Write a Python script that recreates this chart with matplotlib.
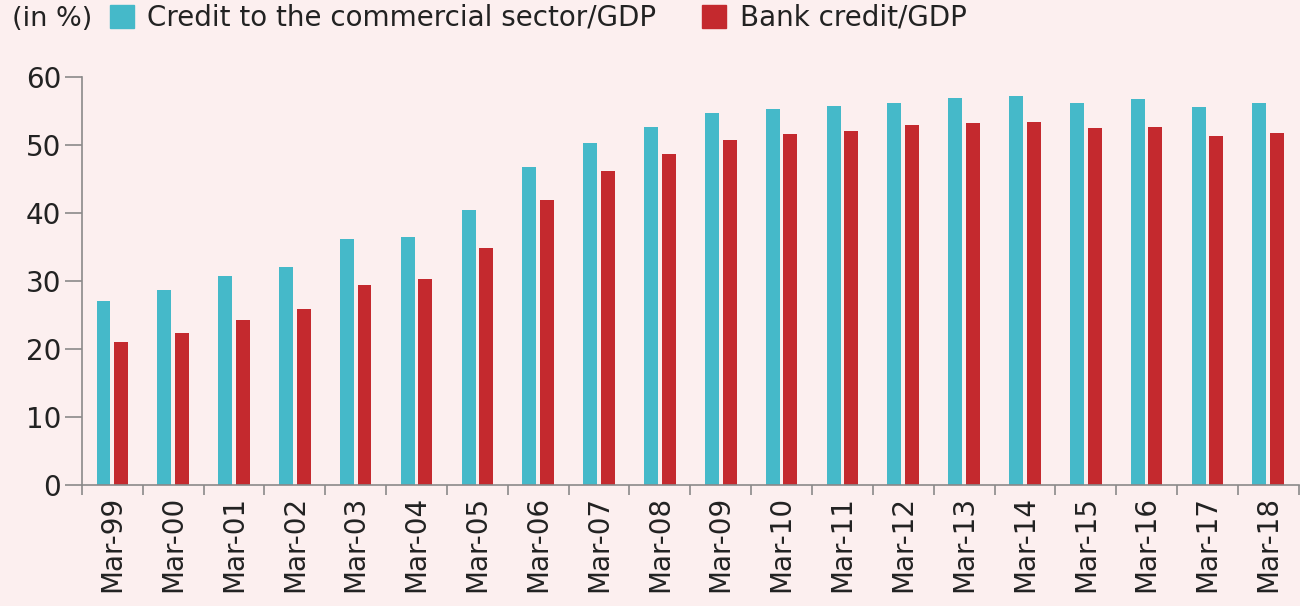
import numpy as np
import matplotlib
matplotlib.use('Agg')
import matplotlib.pyplot as plt
from matplotlib.patches import Rectangle

# data (in % of GDP)
years = ["Mar-99", "Mar-00", "Mar-01", "Mar-02", "Mar-03", "Mar-04", "Mar-05",
         "Mar-06", "Mar-07", "Mar-08", "Mar-09", "Mar-10", "Mar-11", "Mar-12",
         "Mar-13", "Mar-14", "Mar-15", "Mar-16", "Mar-17", "Mar-18"]
credit_commercial = [27.0, 28.6, 30.7, 32.1, 36.1, 36.5, 40.4, 46.8, 50.3, 52.6,
                     54.7, 55.3, 55.7, 56.2, 56.9, 57.2, 56.2, 56.8, 55.6, 56.2]
bank_credit = [21.0, 22.3, 24.2, 25.8, 29.4, 30.3, 34.8, 41.9, 46.2, 48.7,
               50.7, 51.6, 52.0, 52.9, 53.2, 53.4, 52.5, 52.6, 51.3, 51.8]

BG = "#fcefef"
CYAN = "#45b9c9"
RED = "#c4292e"
TXT = "#222222"
GRAY = "#8a8a8a"

plt.rcParams['font.family'] = ['DejaVu Sans']

fig = plt.figure(figsize=(13, 6.06), dpi=100, facecolor=BG)
ax = fig.add_axes([0.063, 0.2, 0.936, 0.673])
ax.set_facecolor(BG)

x = np.arange(len(years))
w = 0.23
ax.bar(x - 0.145, credit_commercial, width=w, color=CYAN)
ax.bar(x + 0.145, bank_credit, width=w, color=RED)

ax.set_xlim(-0.5, len(years) - 0.5)
ax.set_ylim(0, 60)
ax.set_yticks(range(0, 61, 10))
ax.tick_params(axis='y', length=12, width=1.2, color=GRAY, labelsize=20,
               labelcolor=TXT, pad=3)

ax.set_xticks(x)
ax.set_xticklabels(years, rotation=90, fontsize=20, color=TXT)
ax.tick_params(axis='x', which='major', length=0, pad=8)
ax.set_xticks(np.arange(-0.5, len(years), 1), minor=True)
ax.tick_params(axis='x', which='minor', length=7, width=1.2, color=GRAY)

for s in ['top', 'right']:
    ax.spines[s].set_visible(False)
for s in ['left', 'bottom']:
    ax.spines[s].set_color(GRAY)
    ax.spines[s].set_linewidth(1.2)

# header legend (positions in pixels of the 1300x606 canvas)
def px(xp, yp):
    return xp / 1300, 1 - yp / 606

fig.text(*px(12, 26), "(in %)", fontsize=19.5, color=TXT, va='baseline')
fig.patches.append(Rectangle(px(110, 28), 24 / 1300, 23 / 606,
                             transform=fig.transFigure, color=CYAN))
fig.text(*px(147, 26), "Credit to the commercial sector/GDP",
         fontsize=20, color=TXT, va='baseline')
fig.patches.append(Rectangle(px(702, 28), 24 / 1300, 23 / 606,
                             transform=fig.transFigure, color=RED))
fig.text(*px(740, 26), "Bank credit/GDP",
         fontsize=20, color=TXT, va='baseline')

fig.savefig("out.png", dpi=100, facecolor=BG)
